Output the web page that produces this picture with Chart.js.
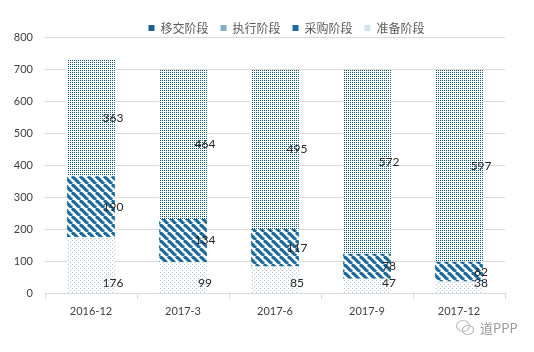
<!DOCTYPE html>
<html>
<head>
<meta charset="utf-8">
<script src="https://cdn.jsdelivr.net/npm/chart.js@4"></script>
<style>
  html, body { margin: 0; padding: 0; background: #fff; }
  #wrap { position: relative; width: 534px; height: 352px; }
  #mark { position: absolute; left: 455px; top: 318px; font: 13px "Noto Sans CJK SC", sans-serif; color: #9a9a9a; display: flex; align-items: center; gap: 5px; }
</style>
</head>
<body>
<div id="wrap">
  <canvas id="c" width="534" height="352"></canvas>
  <div id="mark">
    <svg width="20" height="18" viewBox="0 0 20 18"><g fill="none" stroke="#bdbdbd" stroke-width="1.2"><ellipse cx="8" cy="7" rx="6.5" ry="5.5"/><ellipse cx="13" cy="11" rx="5.5" ry="4.5"/></g></svg>
    <span>道PPP</span>
  </div>
</div>
<script>
const categories = ['2016-12', '2017-3', '2017-6', '2017-9', '2017-12'];
const yijiao = [0, 0, 0, 0, 0];          // 移交阶段
const zhixing = [363, 464, 495, 572, 597]; // 执行阶段
const caigou = [190, 134, 117, 78, 62];    // 采购阶段
const zhunbei = [176, 99, 85, 47, 38];     // 准备阶段

// pattern helpers
function dotPattern(size, color, pts) {
  const c = document.createElement('canvas');
  c.width = size; c.height = size;
  const g = c.getContext('2d');
  g.fillStyle = '#fff';
  g.fillRect(0, 0, size, size);
  g.fillStyle = color;
  pts.forEach(p => g.fillRect(p[0], p[1], 1, 1));
  return g.createPattern(c, 'repeat');
}

function stripePattern(size, color, lw) {
  const c = document.createElement('canvas');
  c.width = size; c.height = size;
  const g = c.getContext('2d');
  g.fillStyle = '#fff';
  g.fillRect(0, 0, size, size);
  g.strokeStyle = color;
  g.lineWidth = lw;
  [-size, 0, size].forEach(o => {
    g.beginPath();
    g.moveTo(o, 0);
    g.lineTo(o + size, size);
    g.stroke();
  });
  return g.createPattern(c, 'repeat');
}

const denseDots = dotPattern(2, '#0d5878', [[0, 0]]);
const sparseDots = dotPattern(4, '#a9c6d6', [[0, 0], [2, 2]]);
const stripes = stripePattern(8, '#1d6a9c', 3.2);

// value labels drawn on the segments
const valueLabels = {
  id: 'valueLabels',
  afterDatasetsDraw(chart) {
    const ctx = chart.ctx;
    ctx.save();
    ctx.font = '12px Lato, "Noto Sans CJK SC", sans-serif';
    ctx.fillStyle = '#262626';
    ctx.textAlign = 'center';
    ctx.textBaseline = 'middle';
    chart.data.datasets.forEach((ds, i) => {
      if (ds.label === '移交阶段') return;
      const meta = chart.getDatasetMeta(i);
      meta.data.forEach((bar, j) => {
        const v = ds.data[j];
        const x = bar.x + 22;
        let y;
        if (ds.label === '准备阶段') y = bar.base - 10;
        else y = (bar.y + bar.base) / 2;
        ctx.fillText(v, x, y);
      });
    });
    ctx.restore();
  }
};

// nudge the legend like the original
const shiftLegend = {
  id: 'shiftLegend',
  afterLayout(chart) {
    chart.legend.left += 34;
    chart.legend.right += 34;
    chart.legend.top += 7;
    chart.legend.bottom += 7;
  }
};

new Chart(document.getElementById('c'), {
  type: 'bar',
  data: {
    labels: categories,
    datasets: [
      { label: '准备阶段', data: zhunbei, backgroundColor: sparseDots, legendColor: '#d3e2ea' },
      { label: '采购阶段', data: caigou, backgroundColor: stripes, legendColor: '#1d6a9c' },
      { label: '执行阶段', data: zhixing, backgroundColor: denseDots, legendColor: '#7fb0c8' },
      { label: '移交阶段', data: yijiao, backgroundColor: '#1f5f8f', legendColor: '#1f5f8f' }
    ]
  },
  options: {
    responsive: false,
    animation: false,
    layout: { padding: { left: 0, right: 29, top: 3, bottom: 28 } },
    datasets: { bar: { categoryPercentage: 1, barPercentage: 0.52 } },
    plugins: {
      tooltip: { enabled: false },
      legend: {
        position: 'top',
        reverse: true,
        labels: {
          boxWidth: 6,
          boxHeight: 6,
          padding: 12,
          color: '#595959',
          font: { size: 12, family: '"Noto Sans CJK SC", sans-serif' },
          generateLabels(chart) {
            return chart.data.datasets.map((ds, i) => ({
              text: ds.label,
              fillStyle: ds.legendColor,
              strokeStyle: ds.legendColor,
              lineWidth: 0,
              datasetIndex: i,
              fontColor: '#595959'
            }));
          }
        }
      }
    },
    scales: {
      x: {
        stacked: true,
        grid: { display: true, drawOnChartArea: false, offset: true, tickLength: 5, color: '#d9d9d9' },
        border: { color: '#d9d9d9' },
        ticks: { color: '#404040', padding: 6, font: { size: 11, family: 'Lato, sans-serif' } }
      },
      y: {
        stacked: true,
        min: 0,
        max: 800,
        afterFit(s) { s.width = 45; },
        grid: { color: '#d9d9d9', drawTicks: false },
        border: { display: false },
        ticks: { stepSize: 100, color: '#404040', padding: 12, font: { size: 11, family: 'Lato, sans-serif' } }
      }
    }
  },
  plugins: [valueLabels, shiftLegend]
});
</script>
</body>
</html>
